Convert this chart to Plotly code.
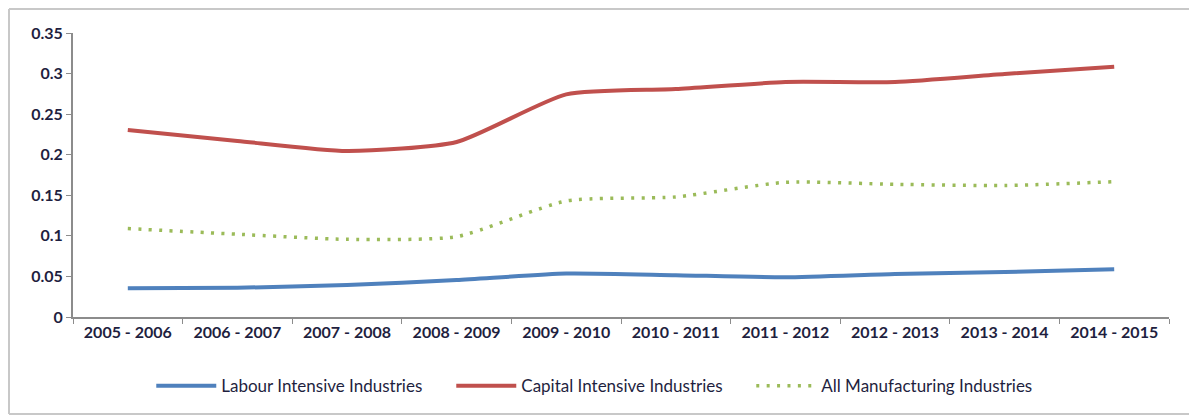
import plotly.graph_objects as go

categories = ["2005 - 2006", "2006 - 2007", "2007 - 2008", "2008 - 2009", "2009 - 2010",
              "2010 - 2011", "2011 - 2012", "2012 - 2013", "2013 - 2014", "2014 - 2015"]
labour = [0.0355, 0.036, 0.0395, 0.0455, 0.0535, 0.0515, 0.049, 0.053, 0.0555, 0.0588]
capital = [0.2305, 0.217, 0.2046, 0.2157, 0.2744, 0.281, 0.2896, 0.2896, 0.2995, 0.3085]
allmfg = [0.109, 0.102, 0.0957, 0.099, 0.143, 0.148, 0.166, 0.1635, 0.162, 0.1668]
yticks = [0, 0.05, 0.1, 0.15, 0.2, 0.25, 0.3, 0.35]
ytick_text = ["0", "0.05", "0.1", "0.15", "0.2", "0.25", "0.3", "0.35"]

W, H = 1189, 416
L, R, T, B = 73, 20, 33, 99

fig = go.Figure()
fig.add_trace(go.Scatter(x=categories, y=labour, name="Labour Intensive Industries",
                         mode="lines", line=dict(color="#4F81BD", width=4, shape="spline", smoothing=0.6)))
fig.add_trace(go.Scatter(x=categories, y=capital, name="Capital Intensive Industries",
                         mode="lines", line=dict(color="#C0504D", width=4, shape="spline", smoothing=0.6)))
fig.add_trace(go.Scatter(x=categories, y=allmfg, name="All Manufacturing Industries",
                         mode="lines", line=dict(color="#9BBB59", width=3.5, dash="3px,7.4px",
                                                 shape="spline", smoothing=0.6)))

pw = W - L - R
ph = H - T - B
bx0 = (9 - L) / pw
bx1 = (1250 - L) / pw
by0 = (H - B - 414) / ph
by1 = (H - B - 9) / ph
border = dict(color="#C8C8C8", width=2)
for (x0, y0, x1, y1) in [(bx0, by0, bx0, by1), (bx0, by1, bx1, by1), (bx0, by0, bx1, by0)]:
    fig.add_shape(type="line", xref="paper", yref="paper", x0=x0, y0=y0, x1=x1, y1=y1,
                  line=border, layer="below")

font_color = "#1F1F3F"
fig.update_layout(
    width=W, height=H,
    margin=dict(l=L, r=R, t=T, b=B, autoexpand=False),
    plot_bgcolor="white", paper_bgcolor="white",
    showlegend=True,
    legend=dict(orientation="h", x=0.482, xanchor="center", y=-0.18, yanchor="top",
                font=dict(family="Lato", size=17, color=font_color), itemwidth=60,
                entrywidth=225, tracegroupgap=0, traceorder="normal"),
    xaxis=dict(type="category", showgrid=False, showline=True, linecolor="#8C8C8C", linewidth=2,
               ticks="outside", tickson="boundaries", ticklen=5, tickcolor="#8C8C8C", tickwidth=1,
               tickfont=dict(family="Lato", size=16, color=font_color, weight="bold"),
               range=[-0.5, 9.5], zeroline=False, automargin=False),
    yaxis=dict(range=[0, 0.35], tickvals=yticks, ticktext=ytick_text, showgrid=False,
               showline=True, linecolor="#8C8C8C", linewidth=2, ticks="outside", ticklen=5,
               tickcolor="#8C8C8C", tickwidth=1, zeroline=False, automargin=False,
               tickfont=dict(family="Lato", size=16, color=font_color, weight="bold")),
)

fig.write_html("out.html", config={"displayModeBar": False},
               post_script="document.body.style.margin='0';document.body.style.overflow='hidden';")
